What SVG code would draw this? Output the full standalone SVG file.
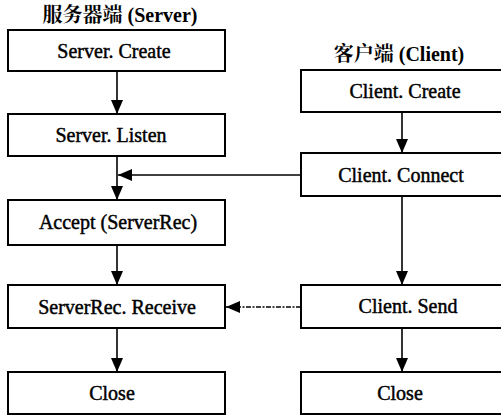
<svg xmlns="http://www.w3.org/2000/svg" width="501" height="418" viewBox="0 0 501 418">
  <style>
    .box { fill: #ffffff; stroke: #000000; stroke-width: 2; }
    .lbl { font-size: 20px; fill: #000000; stroke: #000000; stroke-width: 0.45; text-anchor: middle; }
    .title { font-size: 20px; font-weight: bold; fill: #000000; text-anchor: middle; }
    .link { fill: none; stroke: #000000; stroke-width: 1.6; }
    .dash { fill: none; stroke: #000000; stroke-width: 1.3; stroke-dasharray: 5 1.5 2 1.5; }
  </style>
  <defs>
    <marker id="head" viewBox="0 0 14 12" refX="14" refY="6" markerWidth="14" markerHeight="12" markerUnits="userSpaceOnUse" orient="auto">
      <path d="M0,0 L14,6 L0,12 Z" fill="#000000"/>
    </marker>
  </defs>
  <rect width="501" height="418" fill="#ffffff"/>

  <!-- column headings -->
  <text class="title" x="120" y="22" font-family="Liberation Serif, Noto Serif CJK SC, Noto Sans CJK SC, serif">服务器端 (Server)</text>
  <text class="title" x="399" y="61" font-family="Liberation Serif, Noto Serif CJK SC, Noto Sans CJK SC, serif">客户端 (Client)</text>

  <g id="connectors">
    <line class="link" x1="117" y1="71" x2="117" y2="114" marker-end="url(#head)"/>
    <line class="link" x1="117" y1="156" x2="117" y2="200" marker-end="url(#head)"/>
    <line class="link" x1="117" y1="245" x2="117" y2="285" marker-end="url(#head)"/>
    <line class="link" x1="117" y1="328" x2="117" y2="372" marker-end="url(#head)"/>
    <line class="link" x1="402" y1="112" x2="402" y2="153" marker-end="url(#head)"/>
    <line class="link" x1="402" y1="196" x2="402" y2="285" marker-end="url(#head)"/>
    <line class="link" x1="402" y1="328" x2="402" y2="372" marker-end="url(#head)"/>
    <line class="link" x1="301" y1="175" x2="118" y2="175" marker-end="url(#head)"/>
    <line class="dash" x1="301" y1="307" x2="226" y2="307" marker-end="url(#head)"/>
  </g>

  <g id="server-create">
    <rect class="box" x="8" y="30" width="217" height="41"/>
    <text class="lbl" x="114" y="58" font-family="Liberation Serif, serif">Server. Create</text>
  </g>
  <g id="server-listen">
    <rect class="box" x="8" y="114" width="217" height="42"/>
    <text class="lbl" x="111" y="142" font-family="Liberation Serif, serif">Server. Listen</text>
  </g>
  <g id="accept">
    <rect class="box" x="8" y="200" width="217" height="45"/>
    <text class="lbl" x="118" y="229" font-family="Liberation Serif, serif">Accept (ServerRec)</text>
  </g>
  <g id="server-receive">
    <rect class="box" x="8" y="285" width="217" height="43"/>
    <text class="lbl" x="117" y="314" font-family="Liberation Serif, serif">ServerRec. Receive</text>
  </g>
  <g id="server-close">
    <rect class="box" x="8" y="372" width="217" height="42"/>
    <text class="lbl" x="112" y="400" font-family="Liberation Serif, serif">Close</text>
  </g>

  <g id="client-create">
    <rect class="box" x="301" y="70" width="205" height="42"/>
    <text class="lbl" x="405" y="98" font-family="Liberation Serif, serif">Client. Create</text>
  </g>
  <g id="client-connect">
    <rect class="box" x="301" y="153" width="205" height="43"/>
    <text class="lbl" x="401" y="182" font-family="Liberation Serif, serif">Client. Connect</text>
  </g>
  <g id="client-send">
    <rect class="box" x="301" y="285" width="205" height="43"/>
    <text class="lbl" x="408" y="313" font-family="Liberation Serif, serif">Client. Send</text>
  </g>
  <g id="client-close">
    <rect class="box" x="301" y="372" width="205" height="42"/>
    <text class="lbl" x="400" y="400" font-family="Liberation Serif, serif">Close</text>
  </g>
</svg>
